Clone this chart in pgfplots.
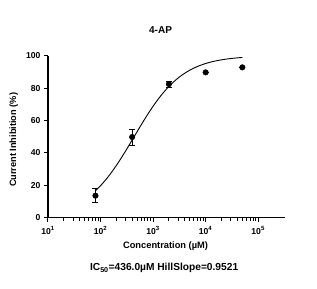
\documentclass[border=0pt]{standalone}
\usepackage{fontspec}
\setmainfont{Liberation Sans}
\usepackage{pgfplots}
\pgfplotsset{compat=1.18}
\begin{document}
\begin{tikzpicture}[font=\bfseries]
\begin{semilogxaxis}[
  scale only axis, width=237pt, height=162pt,
  xmin=10, xmax=324000, ymin=0, ymax=100,
  axis x line=bottom, axis y line=left,
  axis line style={line width=1.3pt, -},
  tick style={line width=1pt, black},
  tick align=outside, major tick length=4pt,
  xtick={10,100,1000,10000,100000},
  xticklabels={10\textsuperscript{1},10\textsuperscript{2},10\textsuperscript{3},10\textsuperscript{4},10\textsuperscript{5}},
  minor xtick={},
  ytick={0,20,40,60,80,100},
  /pgf/number format/assume math mode=true,
  ticklabel style={font=\fontsize{8.6}{10}\selectfont\bfseries},
  xticklabel style={yshift=-1pt},
  clip=false,
]
\addplot[black, line width=0.9pt, smooth] coordinates {
(80,16.59) (100,19.75) (133.35,24.45) (177.83,29.86) (237.14,35.89) (316.23,42.41)
(421.70,49.21) (562.34,56.02) (749.89,62.63) (1000,68.79) (1333.5,74.37) (1778.3,79.22)
(2371.4,83.38) (3162.3,86.84) (4217.0,89.66) (5623.4,91.94) (7498.9,93.75) (10000,95.18)
(13335,96.29) (17783,97.15) (23714,97.82) (31623,98.34) (42170,98.73) (50000,98.92)
};
\addplot[black, only marks, mark=*, mark size=2.8pt,
  error bars/.cd, y dir=both, y explicit, error mark options={rotate=90, mark size=3pt, line width=0.8pt}, error bar style={line width=0.8pt}]
  coordinates {
(80,13.6) +- (0,4.2)
(400,49.8) +- (0,5.0)
(2000,82.5) +- (0,1.8)
(10000,89.7) +- (0,0)
(50000,92.8) +- (0,0)
};
\node[font=\fontsize{10}{12}\selectfont\bfseries] at (rel axis cs:0.475,1.16) {4-AP};
\node[font=\fontsize{9.3}{11}\selectfont\bfseries] at (rel axis cs:0.496,-0.175) {Concentration (µM)};
\node[font=\fontsize{10.2}{12}\selectfont\bfseries] at (rel axis cs:0.49,-0.31) {IC\textsubscript{50}=436.0µM HillSlope=0.9521};
\node[font=\fontsize{9.2}{11}\selectfont\bfseries, rotate=90] at (rel axis cs:-0.145,0.48) {Current Inhibition (\%)};
\end{semilogxaxis}
\useasboundingbox (-48pt,-71.3pt) rectangle (269pt,217.7pt);
\end{tikzpicture}
\end{document}
